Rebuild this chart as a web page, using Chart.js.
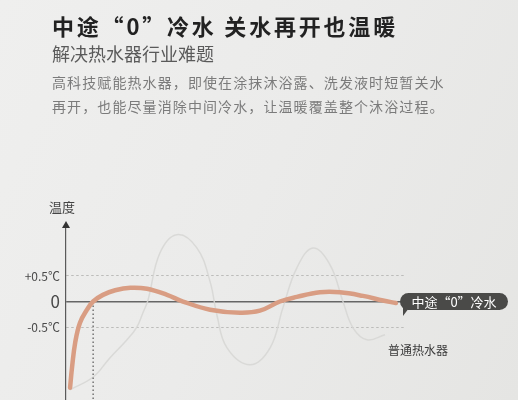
<!DOCTYPE html>
<html lang="zh-CN">
<head>
<meta charset="utf-8">
<title>中途“0”冷水 关水再开也温暖</title>
<script src="https://cdn.jsdelivr.net/npm/chart.js@4.4.1/dist/chart.umd.min.js"></script>
<style>
  html, body { margin: 0; padding: 0; }
  body {
    width: 518px; height: 400px; overflow: hidden; position: relative;
    background: linear-gradient(115deg, #efefee 0%, #ebebea 50%, #e5e5e3 100%);
    font-family: "Noto Sans CJK SC", "Noto Sans", sans-serif;
  }
  #chart { position: absolute; left: 0; top: 0; }
  .title { position: absolute; left: 52px; top: 10px; font-size: 22px; line-height: 30px; font-weight: bold; letter-spacing: 2.8px; color: #222; white-space: nowrap; }
  .sub { position: absolute; left: 52px; top: 41px; font-size: 18px; line-height: 24px; color: #5a5a5a; white-space: nowrap; }
  .para { position: absolute; left: 52px; top: 70px; font-size: 14px; line-height: 24px; letter-spacing: 1.1px; color: #7b7b7b; white-space: nowrap; }
  .ylabel { position: absolute; left: 49px; top: 199px; font-size: 13px; line-height: 16px; color: #444; }
  .bubble { position: absolute; left: 400px; top: 293px; width: 108px; height: 17px; line-height: 17px; border-radius: 9px; background: #4a4a48; color: #fff; font-size: 13px; text-align: center; white-space: nowrap; }
  .bubble::after { content: ''; position: absolute; left: 3px; top: 15px; border-top: 8px solid #4a4a48; border-right: 6px solid transparent; }
  .normal { position: absolute; left: 388px; top: 342px; font-size: 12px; line-height: 16px; color: #3a3a3a; white-space: nowrap; }
</style>
</head>
<body>
<canvas id="chart" width="518" height="400"></canvas>
<div class="title">中途“0”冷水 关水再开也温暖</div>
<div class="sub">解决热水器行业难题</div>
<div class="para">高科技赋能热水器，即使在涂抹沐浴露、洗发液时短暂关水<br>再开，也能尽量消除中间冷水，让温暖覆盖整个沐浴过程。</div>
<div class="ylabel">温度</div>
<div class="bubble">中途“0”冷水</div>
<div class="normal">普通热水器</div>
<script>
// time along the shower (0-100), temperature offset in ℃
var ourTime = [1.2, 1.8, 2.7, 4.1, 6.2, 8.0, 10.9, 14.5, 19, 23.9, 29.8, 34.5, 42.5, 51.3, 57.2, 63.1, 68.1, 74.9, 80.8, 87.6, 93.5, 97.3];
var ourTemp = [-1.69, -1.28, -0.81, -0.42, -0.16, 0, 0.13, 0.22, 0.27, 0.25, 0.13, 0, -0.16, -0.22, -0.18, 0, 0.09, 0.18, 0.18, 0.11, 0.02, -0.03];

var oldTime = [1.2, 8, 13, 18, 20.9, 22.7, 24.2, 27.7, 32.7, 38.6, 42.5, 44.5, 47.5, 54.3, 60.2, 64, 68.1, 72.9, 77.9, 81.7, 84.7, 88.8, 94.1];
var oldTemp = [-1.73, -1.48, -1.1, -0.75, -0.5, -0.22, 0.03, 0.95, 1.31, 1.05, 0.39, -0.26, -0.91, -1.24, -0.91, -0.12, 0.66, 1.05, 0.72, 0, -0.52, -0.75, -0.65];

var crossTime = 8.0;   // where our curve first reaches 0
var yTicks = [-0.5, 0, 0.5];
var yTickLabels = ['-0.5℃', '0', '+0.5℃'];

var fontFamily = '"Noto Sans CJK SC", "Noto Sans", sans-serif';

function points(xs, ys) {
    return xs.map(function (x, i) { return { x: x, y: ys[i] }; });
}

var arrowPlugin = {
    id: 'axisArrow',
    afterDraw: function (chart) {
        var ctx = chart.ctx, a = chart.chartArea;
        ctx.save();
        ctx.fillStyle = '#333';
        ctx.beginPath();
        ctx.moveTo(a.left, a.top - 6);
        ctx.lineTo(a.left - 4, a.top + 1);
        ctx.lineTo(a.left + 4, a.top + 1);
        ctx.closePath();
        ctx.fill();
        ctx.restore();
    }
};

var chart = new Chart(document.getElementById('chart').getContext('2d'), {
    type: 'line',
    data: {
        datasets: [
            {
                label: '中途“0”冷水',
                data: points(ourTime, ourTemp),
                borderColor: '#d99d83',
                borderWidth: 4.5,
                borderCapStyle: 'round',
                tension: 0.4,
                pointRadius: 0
            },
            {
                label: 'cross',
                data: [{ x: crossTime, y: 0 }, { x: crossTime, y: -1.93 }],
                borderColor: '#555',
                borderWidth: 1.2,
                borderDash: [1.5, 2.5],
                pointRadius: 0
            },
            {
                label: '普通热水器',
                data: points(oldTime, oldTemp),
                borderColor: 'rgba(214,214,212,0.85)',
                borderWidth: 1.5,
                tension: 0.4,
                pointRadius: 0
            }
        ]
    },
    options: {
        responsive: false,
        animation: false,
        layout: { padding: { top: 227, right: 113, left: 0, bottom: 0 } },
        plugins: { legend: { display: false }, tooltip: { enabled: false } },
        scales: {
            x: { type: 'linear', min: 0, max: 100, display: false },
            y: {
                min: -1.93,
                max: 1.46,
                afterBuildTicks: function (scale) {
                    scale.ticks = yTicks.map(function (v) { return { value: v }; });
                },
                afterFit: function (scale) {
                    scale.width = 66;
                    scale.paddingTop = 0;
                    scale.paddingBottom = 0;
                },
                ticks: {
                    padding: 6,
                    color: '#4a4a4a',
                    callback: function (value) { return yTickLabels[yTicks.indexOf(value)]; },
                    font: function (ctx) {
                        return ctx.tick && ctx.tick.value === 0 ? { family: fontFamily, size: 17 } : { family: fontFamily, size: 12 };
                    }
                },
                grid: {
                    drawTicks: false,
                    color: function (ctx) { return ctx.tick && ctx.tick.value === 0 ? '#666' : '#bcbcba'; },
                    lineWidth: function (ctx) { return ctx.tick && ctx.tick.value === 0 ? 1.5 : 1; }
                },
                border: {
                    display: true,
                    color: '#5a5a5a',
                    width: 1.2,
                    dash: function (ctx) { return ctx.tick && ctx.tick.value === 0 ? [] : [2.5, 2.5]; }
                }
            }
        }
    },
    plugins: [arrowPlugin]
});
</script>
</body>
</html>
